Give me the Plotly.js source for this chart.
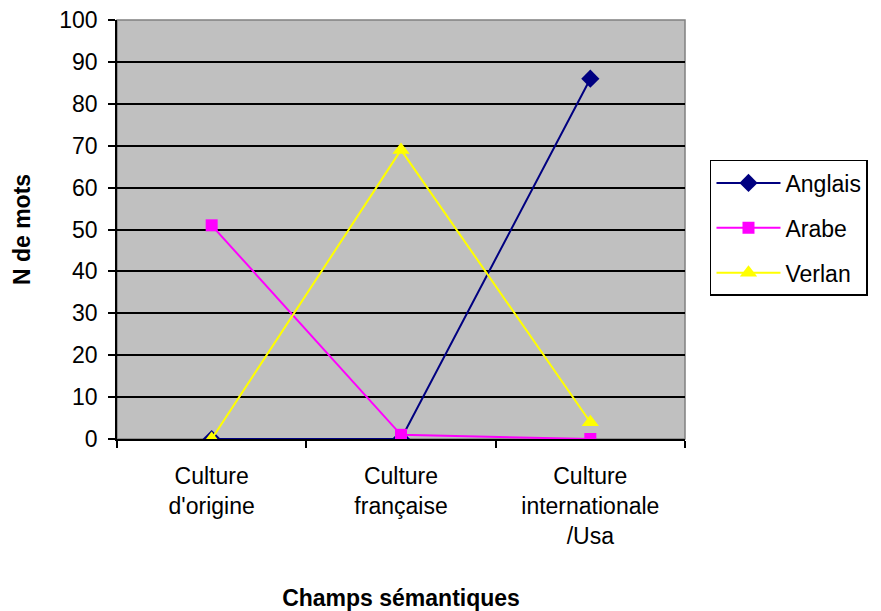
<!DOCTYPE html>
<html><head><meta charset="utf-8">
<script src="https://cdn.plot.ly/plotly-3.0.1.min.js"></script>
<style>body{margin:0;background:#fff}#c{width:881px;height:611px}</style>
</head><body><div id="c"></div>
<script>
const categories = ["Culture<br>d'origine", "Culture<br>française", "Culture<br>internationale<br>/Usa"];
const anglais = [0, 0, 86];
const arabe = [51, 1, 0];
const verlan = [0, 69, 4];

const fam = "Liberation Sans, Arial, sans-serif";
const traces = [
  {name: "Anglais", legendgroup: "a", x: categories, y: anglais, mode: "lines+markers", type: "scatter",
   line: {color: "#000080", width: 2}, marker: {symbol: "diamond", size: 14, color: "#000080"}},
  {name: "Arabe", legendgroup: "b", x: categories, y: arabe, mode: "lines+markers", type: "scatter",
   line: {color: "#FF00FF", width: 2}, marker: {symbol: "square", size: 12, color: "#FF00FF"}},
  {name: "Verlan", legendgroup: "c", x: categories, y: verlan, mode: "lines+markers", type: "scatter",
   line: {color: "#FFFF00", width: 2}, marker: {symbol: "triangle-up", size: 15, color: "#FFFF00"}}
];
const layout = {
  width: 881, height: 611,
  margin: {l: 117, r: 196, t: 20, b: 172},
  paper_bgcolor: "#fff", plot_bgcolor: "#C0C0C0",
  font: {family: fam, size: 23, color: "#000"},
  showlegend: true,
  legend: {x: 1.044, y: 0.666, xanchor: "left", yanchor: "top", bordercolor: "#000", borderwidth: 1.5,
           bgcolor: "#fff", font: {family: fam, size: 23}, traceorder: "grouped", tracegroupgap: 12, itemwidth: 64},
  xaxis: {type: "category", tickson: "boundaries", ticks: "outside", ticklen: 7, tickcolor: "#000", tickwidth: 1.5,
          showline: true, linecolor: "#000", linewidth: 1.5, showgrid: false, range: [-0.5, 2.5],
          ticklabelstandoff: 16, tickfont: {family: fam, size: 23},
          title: {text: "<b>Champs sémantiques</b>", font: {family: fam, size: 23}, standoff: 42}},
  yaxis: {range: [0, 100], dtick: 10, ticks: "outside", ticklen: 7, tickcolor: "#000", tickwidth: 1.5,
          showline: true, linecolor: "#000", linewidth: 1.5, showgrid: true, gridcolor: "#000", gridwidth: 1.5,
          zeroline: false, ticklabelstandoff: 6, tickfont: {family: fam, size: 23},
          title: {text: "<b>N de mots</b>", font: {family: fam, size: 23}, standoff: 22}},
  shapes: [{type: "rect", xref: "paper", yref: "paper", x0: 0, x1: 1, y0: 0, y1: 1,
            line: {color: "#808080", width: 1.5}, layer: "below"}]
};
Plotly.newPlot("c", traces, layout, {displayModeBar: false});
</script></body></html>
